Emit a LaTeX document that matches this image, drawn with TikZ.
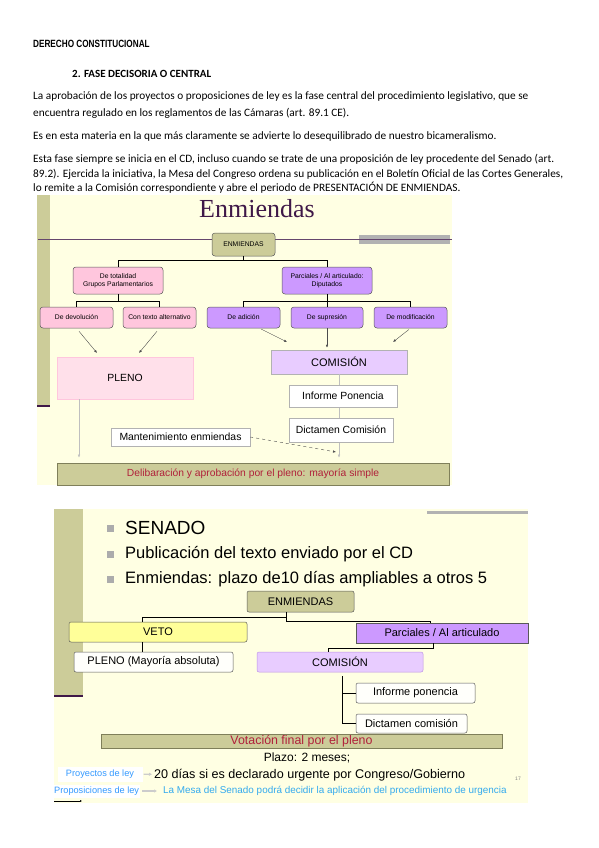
\documentclass[tikz,border=0pt]{standalone}
\usepackage{fontspec}
\setmainfont{Carlito}
\newfontfamily\arialfont{Liberation Sans}
\newfontfamily\timesfont{Liberation Serif}
\usepackage{xcolor}
\usetikzlibrary{arrows.meta, positioning}

\definecolor{slidebg}{HTML}{FFFFE3}
\definecolor{olivebar}{HTML}{CCCC99}
\definecolor{olivedark}{HTML}{7F7F5A}
\definecolor{pinknode}{HTML}{FFC6DD}
\definecolor{pinklight}{HTML}{FFE0EA}
\definecolor{purplenode}{HTML}{CC99FF}
\definecolor{purplelight}{HTML}{E8CCFF}
\definecolor{vetoyellow}{HTML}{FFFF99}
\definecolor{titlepurple}{HTML}{3F1848}
\definecolor{barred}{HTML}{B0203A}
\definecolor{linkblue}{HTML}{3399FF}
\definecolor{urgblue}{HTML}{33AAEE}

\begin{document}
\begin{tikzpicture}[
  x=1pt, y=-1pt,
  bodyline/.style={anchor=west, inner sep=0pt, font=\fontsize{11.3}{13}\selectfont},
  smallbox/.style={
    rectangle, rounded corners=3pt, draw=gray!70!black, line width=0.5pt,
    inner sep=0pt, align=center, font=\arialfont\fontsize{6.8}{7.6}\selectfont
  },
  flatbox/.style={
    rectangle, draw=gray!60, line width=0.5pt,
    inner sep=0pt, align=center, font=\arialfont\fontsize{10.4}{11}\selectfont
  },
  slidebox/.style={
    rectangle, rounded corners=2pt, draw=gray!70!black, line width=0.5pt,
    inner sep=0pt, align=center, font=\arialfont\fontsize{11}{12}\selectfont
  },
  bar/.style={
    rectangle, draw=olivedark, fill=olivebar, line width=0.6pt,
    inner sep=0pt, text=barred
  },
  tree/.style={draw, line width=0.8pt},
  thinarrow/.style={draw=gray!60!black, line width=0.4pt, -{Latex[length=3pt,width=2.4pt]}},
  graylink/.style={draw=gray!40, line width=1.3pt, -{Latex[length=3pt,width=3.5pt]}},
  bullet/.style={fill=gray!65, minimum size=7pt, inner sep=0pt}
]

\useasboundingbox (0,0) rectangle (599,848);
\fill[white] (0,0) rectangle (599,848);

% page text
\node[anchor=west, inner sep=0pt, font=\arialfont\bfseries\fontsize{10.5}{11}\selectfont] (head) at (33,44)
  {\scalebox{0.78}[1]{DERECHO CONSTITUCIONAL}};
\node[anchor=west, inner sep=0pt, font=\bfseries\fontsize{11}{13}\selectfont] (fase) at (72,74)
  {2. FASE DECISORIA O CENTRAL};
\node[bodyline] (l1) at (33,97) {La aprobación de los proyectos o proposiciones de ley es la fase central del procedimiento legislativo, que se};
\node[bodyline] (l2) at (33,113) {encuentra regulado en los reglamentos de las Cámaras (art. 89.1 CE).};
\node[bodyline] (l3) at (33,136) {Es en esta materia en la que más claramente se advierte lo desequilibrado de nuestro bicameralismo.};
\node[bodyline] (l4) at (33,159) {Esta fase siempre se inicia en el CD, incluso cuando se trate de una proposición de ley procedente del Senado (art.};
\node[bodyline] (l5) at (33,174) {89.2). Ejercida la iniciativa, la Mesa del Congreso ordena su publicación en el Boletín Oficial de las Cortes Generales,};
\node[bodyline] (l6) at (33,188) {lo remite a la Comisión correspondiente y abre el periodo de PRESENTACIÓN DE ENMIENDAS.};

% ---- slide 1: Congreso ----
\fill[slidebg] (37,195) rectangle (452,485);
\fill[olivebar] (37,195) rectangle (50,406);
\draw[titlepurple, line width=1.2pt] (37,406) -- (50,406);
\fill[gray!60] (359,235) rectangle (450,244);
\draw[titlepurple!80, line width=0.7pt] (38,239) -- (452,239);
\node[font=\timesfont\fontsize{26}{28}\selectfont, text=titlepurple] (title1) at (257,209) {Enmiendas};

\node[smallbox, fill=olivebar, minimum width=63pt, minimum height=23pt] (enm1) at (243.5,244.5) {ENMIENDAS};
\node[smallbox, fill=pinknode, minimum width=90pt, minimum height=27pt] (tot) at (118,280.5) {De totalidad\\Grupos Parlamentarios};
\node[smallbox, fill=purplenode, minimum width=90pt, minimum height=27pt] (par) at (327,280.5) {Parciales / Al articulado:\\Diputados};
\node[smallbox, fill=pinknode, minimum width=73pt, minimum height=21pt] (dev) at (76.5,317.5) {De devolución};
\node[smallbox, fill=pinknode, minimum width=73pt, minimum height=21pt] (alt) at (159.5,317.5) {Con texto alternativo};
\node[smallbox, fill=purplenode, minimum width=73pt, minimum height=21pt] (adi) at (243.5,317.5) {De adición};
\node[smallbox, fill=purplenode, minimum width=72pt, minimum height=21pt] (sup) at (327,317.5) {De supresión};
\node[smallbox, fill=purplenode, minimum width=73pt, minimum height=21pt] (mod) at (410.5,317.5) {De modificación};

\draw[tree] (enm1.south) -- ++(0,4.5) -| (tot.north);
\draw[tree] (enm1.south) -- ++(0,4.5) -| (par.north);
\draw[tree] (tot.south) -- ++(0,7) -| (dev.north);
\draw[tree] (tot.south) -- ++(0,7) -| (alt.north);
\draw[tree] (par.south) -- ++(0,7) -| (adi.north);
\draw[tree] (par.south) -- (sup.north);
\draw[tree] (par.south) -- ++(0,7) -| (mod.north);

\node[flatbox, draw=pinknode, fill=pinklight, minimum width=136pt, minimum height=42pt] (pleno1) at (125,378) {PLENO};
\node[flatbox, fill=purplelight, minimum width=136pt, minimum height=24pt, font=\arialfont\fontsize{11}{12}\selectfont] (com1) at (339,362) {COMISIÓN};
\node[bar, minimum width=392pt, minimum height=22pt, font=\arialfont\fontsize{10.3}{11}\selectfont] (delib) at (253,474)
  {Delibaración y aprobación por el pleno: mayoría simple};

\coordinate (toPl1) at (97,353);
\coordinate (toPl2) at (139,353);
\coordinate (toCo1) at (287,342);
\coordinate (toCo3) at (393,342);
\coordinate (mend) at (336,452);
\draw[thinarrow, shorten <=4pt] (dev.south) -- (toPl1);
\draw[thinarrow, shorten <=4pt] (alt.south) -- (toPl2);
\draw[thinarrow, shorten <=2pt] ([xshift=16pt]adi.south) -- (toCo1);
\draw[thinarrow, shorten >=2pt] (sup.south) -- (sup.south |- com1.north);
\draw[thinarrow, shorten <=2pt] (mod.south) -- (toCo3);

\draw[thinarrow, draw=gray!50, shorten >=5pt] (com1.south) -- (com1.south |- delib.north);
\draw[thinarrow, draw=gray!50, shorten >=5pt] ([xshift=-46pt]pleno1.south) -- ([xshift=-46pt]pleno1.south |- delib.north);

\node[flatbox, fill=white, minimum width=108pt, minimum height=22pt] (inf1) at (343,396) {Informe Ponencia};
\node[flatbox, fill=white, minimum width=104pt, minimum height=24pt] (dic1) at (341,430) {Dictamen Comisión};
\node[flatbox, fill=white, minimum width=139pt, minimum height=18pt] (man1) at (180.5,437) {Mantenimiento enmiendas};
\draw[thinarrow, dashed] (man1.east) -- (mend);

% ---- slide 2: Senado ----
\fill[slidebg] (54,509) rectangle (528,803);
\fill[olivebar] (54,509) rectangle (83,696);
\draw[titlepurple, line width=1.2pt] (54,696) -- (83,696);
\draw[gray!60, line width=3pt] (427,512) -- (528,512);

\node[bullet] (b1) at (110,528) {};
\node[bullet] (b2) at (110,554) {};
\node[bullet] (b3) at (110,579) {};
\node[anchor=west, inner sep=0pt, font=\arialfont\fontsize{19}{20}\selectfont] (senado) at (125,528) {SENADO};
\node[anchor=west, inner sep=0pt, font=\arialfont\fontsize{16.5}{18}\selectfont] (publ) at (125,554) {Publicación del texto enviado por el CD};
\node[anchor=west, inner sep=0pt, font=\arialfont\fontsize{16.5}{18}\selectfont] (plazo) at (125,579) {Enmiendas: plazo de10 días ampliables a otros 5};

\node[slidebox, fill=olivebar, minimum width=107pt, minimum height=21pt] (enm2) at (300.5,601.5) {ENMIENDAS};
\node[slidebox, fill=vetoyellow, minimum width=178pt, minimum height=20pt] (veto) at (158,632) {VETO};
\node[slidebox, fill=purplenode, minimum width=172pt, minimum height=20pt, rounded corners=0pt] (parc) at (442,633) {Parciales / Al articulado};
\node[slidebox, fill=white!85!slidebg, minimum width=159pt, minimum height=20pt] (pleno2) at (153.5,662) {PLENO (Mayoría absoluta)};
\node[slidebox, fill=purplelight, draw=purplenode!80!gray, minimum width=166pt, minimum height=20pt] (com2) at (340,662) {COMISIÓN};
\node[slidebox, fill=white!85!slidebg, minimum width=119pt, minimum height=20pt] (inf2) at (415.5,693) {Informe ponencia};
\node[slidebox, fill=white!85!slidebg, minimum width=111pt, minimum height=19pt] (dic2) at (411.5,723.5) {Dictamen comisión};
\node[bar, minimum width=401pt, minimum height=14pt, font=\arialfont\fontsize{12.4}{12}\selectfont] (vot) at (301.5,741) {Votación final por el pleno};

\draw[tree] ([xshift=-14.5pt]enm2.south) -- ++(0,5) -| ([xshift=-16pt]veto.north);
\draw[tree] ([xshift=-14.5pt]enm2.south) -- ++(0,9) -| ([xshift=-12pt]parc.north);
\draw[tree] ([xshift=-16pt]veto.south) -- ([xshift=-16pt]veto.south |- pleno2.north);
\draw[tree] ([xshift=-9pt]parc.south) -- ++(0,5) -| ([xshift=-12pt]com2.north);
\draw[tree] ([xshift=2pt,yshift=-4pt]com2.south) |- (inf2.west);
\draw[tree] ([xshift=2pt,yshift=-4pt]com2.south) |- (dic2.west);

\node[font=\arialfont\fontsize{12}{13}\selectfont, inner sep=0pt] (pz) at (307,758) {Plazo: 2 meses;};
\node[fill=white, inner sep=2pt, minimum width=85pt, minimum height=15pt, text=linkblue, font=\arialfont\fontsize{9.2}{10}\selectfont] (proy) at (100,774) {Proyectos de ley};
\node[anchor=west, inner sep=0pt, font=\arialfont\fontsize{12.6}{13}\selectfont] (dias) at (154,775) {20 días si es declarado urgente por Congreso/Gobierno};
\node[fill=white, inner sep=1pt, minimum height=13pt, text=linkblue, font=\arialfont\fontsize{9.2}{10}\selectfont, anchor=west] (prop) at (53,791) {Proposiciones de ley};
\node[anchor=west, inner sep=0pt, text=urgblue, font=\arialfont\fontsize{9.9}{10}\selectfont] (mesa) at (163,791)
  {La Mesa del Senado podrá decidir la aplicación del procedimiento de urgencia};
\node[text=gray, font=\arialfont\fontsize{5}{5}\selectfont] (pagenum) at (518,779) {17};
\draw[graylink, shorten <=1pt, shorten >=2pt] (proy) -- (dias);
\draw[graylink, shorten <=2pt, shorten >=6pt] (prop) -- (mesa);
\draw[line width=0.6pt, -{Latex[length=2pt,width=2pt]}] (54,801) -- (82,801);

\end{tikzpicture}
\end{document}
